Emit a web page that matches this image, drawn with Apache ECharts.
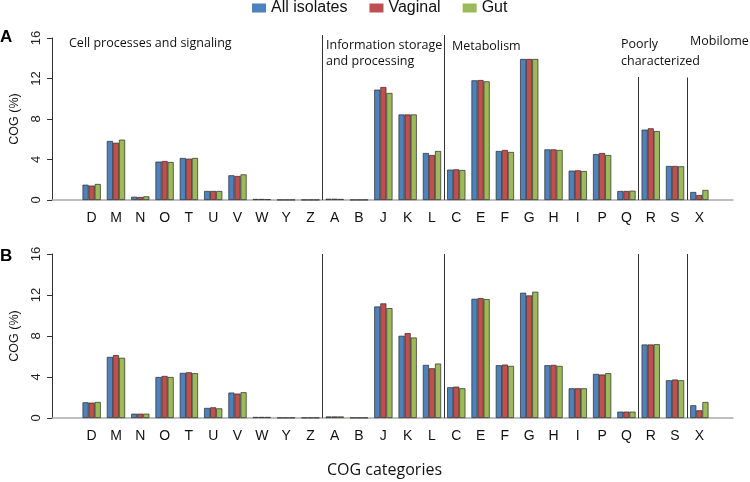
<!DOCTYPE html>
<html>
<head>
<meta charset="utf-8">
<script src="https://cdn.jsdelivr.net/npm/echarts@6/dist/echarts.min.js"></script>
<style>html,body{margin:0;padding:0;background:#fff;}#c{width:750px;height:482px;}</style>
</head>
<body>
<div id="c"></div>
<script>
const categories = ['D','M','N','O','T','U','V','W','Y','Z','A','B','J','K','L','C','E','F','G','H','I','P','Q','R','S','X'];
const seriesNames = ['All isolates','Vaginal','Gut'];
const colors = ['#4f81bd','#c0504d','#9bbb59'];

// Panel A
const allA = [1.51,5.83,0.32,3.79,4.15,0.89,2.44,0.10,0.02,0.02,0.12,0.02,10.9,8.45,4.64,3.0,11.82,4.84,13.93,5.0,2.9,4.54,0.89,6.95,3.36,0.79];
const vagA = [1.42,5.66,0.30,3.85,4.08,0.89,2.37,0.10,0.02,0.02,0.12,0.02,11.16,8.45,4.44,3.03,11.85,4.94,13.93,5.0,2.93,4.64,0.89,7.08,3.36,0.49];
const gutA = [1.58,5.96,0.36,3.75,4.15,0.89,2.53,0.08,0.02,0.02,0.10,0.02,10.57,8.45,4.84,2.96,11.72,4.74,13.93,4.94,2.86,4.44,0.92,6.81,3.33,0.99];

// Panel B
const allB = [1.53,5.96,0.42,4.0,4.4,0.98,2.48,0.10,0.03,0.03,0.15,0.03,10.88,8.02,5.18,3.0,11.63,5.15,12.22,5.15,2.9,4.3,0.62,7.17,3.68,1.24];
const vagB = [1.50,6.13,0.42,4.1,4.46,1.04,2.38,0.10,0.03,0.03,0.15,0.03,11.18,8.28,4.85,3.06,11.70,5.21,11.96,5.18,2.9,4.24,0.62,7.17,3.75,0.75];
const gutB = [1.56,5.87,0.42,4.0,4.37,0.94,2.51,0.10,0.03,0.03,0.15,0.03,10.72,7.85,5.31,2.9,11.60,5.08,12.32,5.08,2.9,4.37,0.62,7.2,3.68,1.56];

// group boundaries (between categories) and the top of each separator line
const groupBreaks = [9.5, 14.5, 22.5, 24.5];
const breakTopsA = [16.3, 16.3, 12.15, 12.1];
const breakTopsB = [16, 16, 16, 16];

const yTicks = [0,4,8,12,16];

const chart = echarts.init(document.getElementById('c'), null, {renderer:'canvas'});

function barSeries(data, name, idx, xi, yi){
  return {
    type:'bar', name:name, data:data, xAxisIndex:xi, yAxisIndex:yi,
    barGap:'0%', barCategoryGap:'25%',
    itemStyle:{color:colors[idx], borderColor:'#2a2a2a', borderWidth:0.7},
    emphasis:{disabled:true}, silent:true
  };
}
function sepSeries(xi, yi, tops){
  return {
    type:'line', data:[], xAxisIndex:xi, yAxisIndex:yi, silent:true,
    markLine:{
      silent:true, symbol:['none','none'], label:{show:false},
      lineStyle:{color:'#333', width:1, type:'solid'},
      emphasis:{disabled:true},
      animation:false,
      data: groupBreaks.map((b,i)=>[{coord:[b,0]},{coord:[b,tops[i]]}])
    }
  };
}

const catAxis = (grid) => ({
  type:'category', gridIndex:grid, data:categories,
  axisLine:{show:false}, axisTick:{show:false},
  axisLabel:{color:'#111', fontSize:14, fontFamily:'Liberation Sans', margin:11, interval:0}
});
const hiddenVal = (grid) => ({type:'value', gridIndex:grid, min:-0.5, max:25.5, show:false});
const baseAxis = (grid) => ({
  type:'value', gridIndex:grid, min:0, max:1,
  axisLine:{show:true, lineStyle:{color:'#aaaaaa', width:1.5}},
  axisTick:{show:false}, axisLabel:{show:false}, splitLine:{show:false}
});
const visY = (grid) => ({
  type:'value', gridIndex:grid, min:0, max:16, interval:4,
  name:'COG (%)', nameLocation:'middle', nameGap:31, nameRotate:90,
  nameTextStyle:{color:'#111', fontSize:12.5, fontFamily:'Liberation Sans'},
  axisLine:{show:true, lineStyle:{color:'#333', width:1}},
  axisTick:{show:true, length:5, lineStyle:{color:'#333'}},
  axisLabel:{rotate:90, color:'#222', fontSize:13, fontFamily:'Liberation Sans', margin:9,
    formatter:(v)=> yTicks.includes(v) ? String(v) : ''},
  splitLine:{show:false}
});

const annFont = {fontFamily:'Open Sans', fontSize:12.5, fill:'#111'};
function txt(x, y, s, extra){
  return {type:'text', left:x, top:y, silent:true, style:Object.assign({text:s}, annFont, extra||{})};
}

chart.setOption({
  animation:false,
  backgroundColor:'#fff',
  legend:{
    data:seriesNames, top:0, left:252, padding:0, icon:'rect', itemWidth:14, itemHeight:9, itemGap:22,
    itemStyle:{borderWidth:0},
    textStyle:{fontSize:16, fontFamily:'Liberation Sans', color:'#111'}, selectedMode:false
  },
  grid:[
    {left:79.5, right:38.5, top:35, height:165},
    {left:52, right:17, top:38, height:162},
    {left:79.5, right:38.5, top:254, height:164},
    {left:52, right:17, top:254, height:164}
  ],
  xAxis:[
    catAxis(0), hiddenVal(0), baseAxis(1),
    catAxis(2), hiddenVal(2), baseAxis(3)
  ],
  yAxis:[
    {type:'value', gridIndex:0, min:0, max:16.3, show:false},
    visY(1),
    {type:'value', gridIndex:2, min:0, max:16, show:false},
    visY(3)
  ],
  series:[
    barSeries(allA, seriesNames[0], 0, 0, 0),
    barSeries(vagA, seriesNames[1], 1, 0, 0),
    barSeries(gutA, seriesNames[2], 2, 0, 0),
    sepSeries(1, 0, breakTopsA),
    barSeries(allB, seriesNames[0], 0, 3, 2),
    barSeries(vagB, seriesNames[1], 1, 3, 2),
    barSeries(gutB, seriesNames[2], 2, 3, 2),
    sepSeries(4, 2, breakTopsB)
  ],
  graphic:[
    {type:'text', left:0, top:29, silent:true, style:{text:'A', fontFamily:'Liberation Sans', fontWeight:'bold', fontSize:17, fill:'#000'}},
    {type:'text', left:0, top:248, silent:true, style:{text:'B', fontFamily:'Liberation Sans', fontWeight:'bold', fontSize:17, fill:'#000'}},
    txt(69, 37, 'Cell processes and signaling'),
    txt(326, 37, 'Information storage\nand processing', {lineHeight:16}),
    txt(452, 40, 'Metabolism'),
    txt(621, 36, 'Poorly\ncharacterized', {lineHeight:17}),
    txt(690, 35, 'Mobilome'),
    {type:'text', left:327, top:462, silent:true, style:{text:'COG categories', fontFamily:'Open Sans', fontSize:16, fill:'#111'}}
  ]
});
</script>
</body>
</html>
